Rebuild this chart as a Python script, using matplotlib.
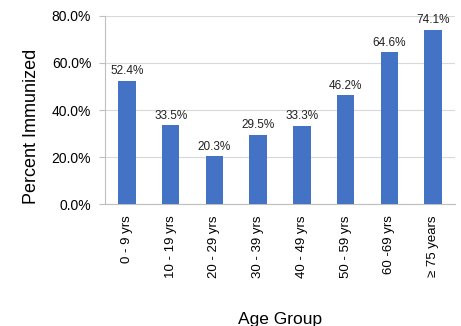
import matplotlib.pyplot as plt
from matplotlib.ticker import PercentFormatter

plt.rcParams['font.family'] = ['Liberation Sans', 'DejaVu Sans']

# data
age_groups = ["0 - 9 yrs", "10 - 19 yrs", "20 - 29 yrs", "30 - 39 yrs",
              "40 - 49 yrs", "50 - 59 yrs", "60 -69 yrs", "\u2265 75 years"]
pct_immunized = [52.4, 33.5, 20.3, 29.5, 33.3, 46.2, 64.6, 74.1]

fig = plt.figure(figsize=(4.61, 3.26), dpi=100)
ax = fig.add_axes([0.228, 0.374, 0.759, 0.577])

bars = ax.bar(range(len(age_groups)), pct_immunized, width=0.4, color="#4472C4", zorder=3)
for b, v in zip(bars, pct_immunized):
    ax.text(b.get_x() + b.get_width() / 2, v + 1.5, f"{v:.1f}%",
            ha="center", va="bottom", fontsize=8.5, color="#222222")

ax.set_xlim(-0.5, len(age_groups) - 0.5)
ax.set_ylim(0, 80)
ax.set_yticks([0, 20, 40, 60, 80])
ax.yaxis.set_major_formatter(PercentFormatter(decimals=1))
ax.set_xticks(range(len(age_groups)))
ax.set_xticklabels(age_groups, rotation=90, fontsize=9.5)
ax.tick_params(axis="y", labelsize=10, length=4, pad=6, color="#bfbfbf")
ax.tick_params(axis="x", length=0, pad=8)

ax.grid(axis="y", color="#d9d9d9", linewidth=0.8, zorder=0)
for s in ["top", "right"]:
    ax.spines[s].set_visible(False)
ax.spines["left"].set_color("#bfbfbf")
ax.spines["bottom"].set_color("#bfbfbf")

ax.set_ylabel("Percent Immunized", fontsize=13)
ax.yaxis.set_label_coords(-0.185, 0.415)
ax.set_xlabel("Age Group", fontsize=12.5)
ax.xaxis.set_label_coords(0.5, -0.574)

fig.savefig("out.png", dpi=100)
